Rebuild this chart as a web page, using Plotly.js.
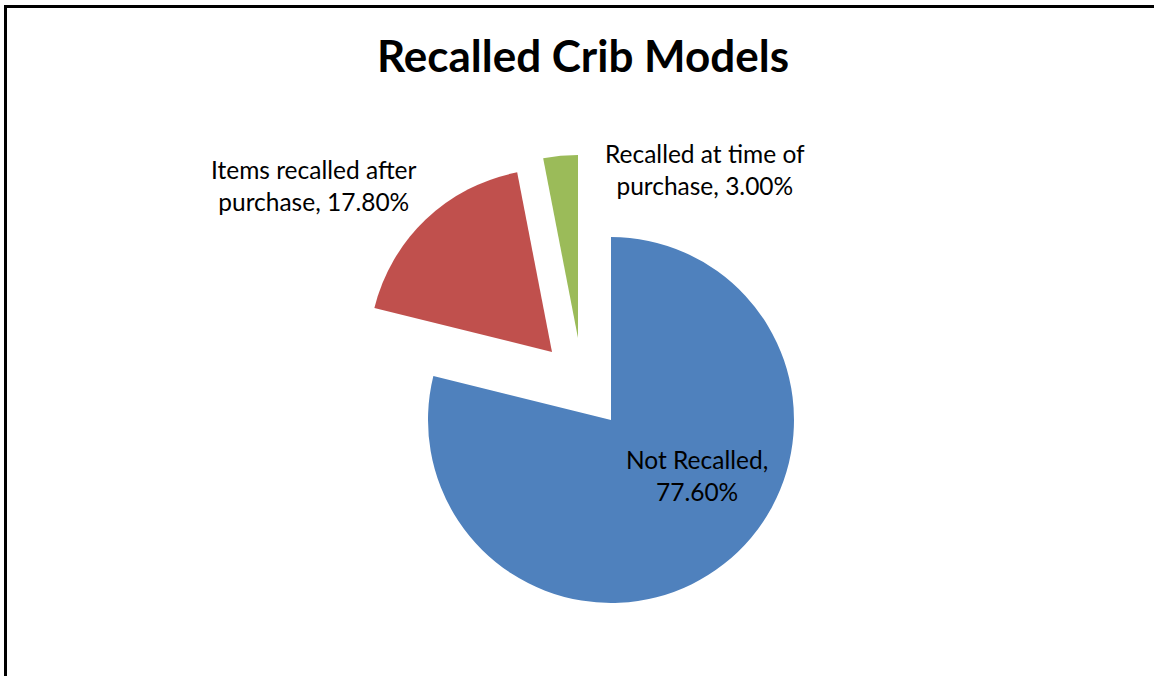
<!DOCTYPE html>
<html>
<head>
<meta charset="utf-8">
<script src="https://cdn.plot.ly/plotly-3.0.1.min.js"></script>
<style>
  html, body { margin: 0; padding: 0; background: #ffffff; }
  #chart { width: 1154px; height: 676px; }
</style>
</head>
<body>
<div id="chart"></div>
<script>
// ---- data ----
const categories = ['Not Recalled', 'Items recalled after purchase', 'Recalled at time of purchase'];
const values = [77.6, 17.8, 3.0];
const sliceColors = ['#4F81BD', '#C0504D', '#9BBB59'];
const chartTitle = 'Recalled Crib Models';

// ---- layout constants ----
const W = 1154, H = 676;
const pieCenter = [611, 420];   // px
const pieRadius = 183;          // px
const explode = [[0, 0], [-59, -68], [-33, -82]]; // px offset of each exploded slice
const labelWrap = [13, 20, 19];
const labelPos = [[697, 475], [314, 185], [705, 169]];

function wrap(str, width) {
  const words = str.split(' ');
  const lines = [];
  let cur = '';
  words.forEach(w => {
    if (cur && (cur + ' ' + w).length > width) { lines.push(cur); cur = w; }
    else { cur = cur ? cur + ' ' + w : w; }
  });
  if (cur) lines.push(cur);
  return lines.join('<br>');
}

const traces = categories.map((cat, i) => {
  const cx = pieCenter[0] + explode[i][0];
  const cy = pieCenter[1] + explode[i][1];
  return {
    type: 'pie',
    labels: categories,
    values: values,
    sort: false,
    direction: 'clockwise',
    rotation: 0,
    textinfo: 'none',
    hoverinfo: 'label+value',
    showlegend: false,
    marker: {
      colors: sliceColors.map((c, j) => j === i ? c : 'rgba(0,0,0,0)'),
      line: { width: 0 }
    },
    domain: {
      x: [(cx - pieRadius) / W, (cx + pieRadius) / W],
      y: [1 - (cy + pieRadius) / H, 1 - (cy - pieRadius) / H]
    }
  };
});

const annotations = categories.map((cat, i) => ({
  text: wrap(cat + ', ' + values[i].toFixed(2) + '%', labelWrap[i]),
  xref: 'paper', yref: 'paper',
  x: labelPos[i][0] / W, y: 1 - labelPos[i][1] / H,
  xanchor: 'center', yanchor: 'middle',
  showarrow: false,
  align: 'center',
  font: { family: 'Lato, "Noto Sans", sans-serif', size: 24.5, color: '#000000' }
}));

const layout = {
  width: W, height: H,
  margin: { l: 0, r: 0, t: 0, b: 0 },
  paper_bgcolor: '#ffffff',
  title: {
    text: '<b>' + chartTitle + '</b>',
    x: 583 / W, xanchor: 'center',
    y: 1 - 57 / H, yanchor: 'middle',
    font: { family: 'Lato, "Noto Sans", sans-serif', size: 44, color: '#000000' }
  },
  annotations: annotations,
  shapes: [
    { type: 'line', xref: 'paper', yref: 'paper', x0: 5.5 / W, x1: 1, y0: 1 - 6.5 / H, y1: 1 - 6.5 / H, line: { color: '#000000', width: 3 } },
    { type: 'line', xref: 'paper', yref: 'paper', x0: 5.5 / W, x1: 5.5 / W, y0: 1 - 5 / H, y1: 0, line: { color: '#000000', width: 3 } }
  ]
};

Plotly.newPlot('chart', traces, layout, { displayModeBar: false, staticPlot: true });
</script>
</body>
</html>
